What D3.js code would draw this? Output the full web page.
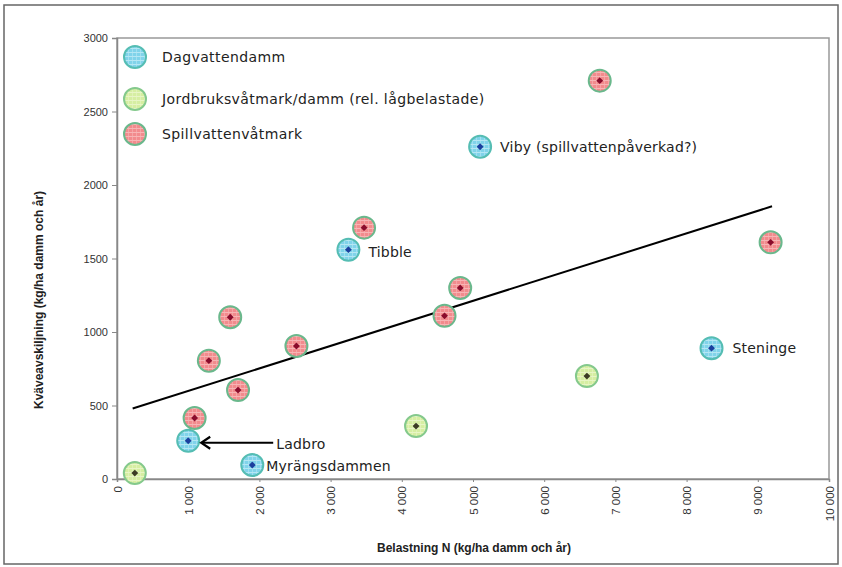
<!DOCTYPE html>
<html><head><meta charset="utf-8">
<script src="https://cdn.jsdelivr.net/npm/d3@7"></script>
<style>
body{margin:0;background:#fff;}
svg{display:block;}
</style></head>
<body><div id="chart"></div>
<script>
// ---- data ----
const seriesNames = ["Dagvattendamm", "Jordbruksvåtmark/damm (rel. lågbelastade)", "Spillvattenvåtmark"];
const dagX = [5100, 3250, 8350, 1000, 1900];
const dagY = [2260, 1560, 890, 260, 95];
const dagLabels = ["Viby (spillvattenpåverkad?)", "Tibble", "Steninge", "Ladbro", "Myrängsdammen"];
const jordX = [250, 4200, 6600];
const jordY = [40, 360, 700];
const spillX = [6780, 3470, 9180, 4820, 4600, 1590, 2520, 1290, 1700, 1090];
const spillY = [2710, 1710, 1610, 1300, 1110, 1100, 905, 805, 605, 415];
const trendX = [220, 9200];
const trendY = [480, 1855];
const xTicks = [0, 1000, 2000, 3000, 4000, 5000, 6000, 7000, 8000, 9000, 10000];
const yTicks = [0, 500, 1000, 1500, 2000, 2500, 3000];
const xTitle = "Belastning N (kg/ha damm och år)";
const yTitle = "Kväveavskiljning (kg/ha damm och år)";

const W = 842, H = 567;
const L = 117, R = 829, T = 38, B = 479;

const svg = d3.select("#chart").append("svg").attr("width", W).attr("height", H);

// patterns
const styles = [
  {fill:"#80d3ea", line:"#b5e7f4", stroke:"#55bdb3", dot:"#1b3f9e"},
  {fill:"#d6eea2", line:"#e8f5c6", stroke:"#84c98c", dot:"#3c3c24"},
  {fill:"#f28b8d", line:"#f7b5b5", stroke:"#6ab88c", dot:"#8a0c2c"}
];
const defs = svg.append("defs");
styles.forEach((s,i)=>{
  const p = defs.append("pattern").attr("id","pat"+i).attr("patternUnits","userSpaceOnUse")
    .attr("width",4).attr("height",4);
  p.append("rect").attr("width",4).attr("height",4).attr("fill",s.fill);
  p.append("line").attr("x1",0).attr("x2",4).attr("y1",0.5).attr("y2",0.5).attr("stroke",s.line).attr("stroke-width",1);
  p.append("line").attr("y1",0).attr("y2",4).attr("x1",0.5).attr("x2",0.5).attr("stroke",s.line).attr("stroke-width",0.6);
});

// outer frame
svg.append("rect").attr("x",4).attr("y",5).attr("width",834).attr("height",559)
  .attr("fill","none").attr("stroke","#666").attr("stroke-width",1.5);

const x = d3.scaleLinear().domain([0,10000]).range([L,R]);
const y = d3.scaleLinear().domain([0,3000]).range([B,T]);

// plot frame
svg.append("rect").attr("x",L).attr("y",T).attr("width",R-L).attr("height",B-T)
  .attr("fill","none").attr("stroke","#999").attr("stroke-width",1.5);

// axes
const fmt = d => d3.format(",")(d).replace(/,/g," ");
const yAx = svg.append("g").attr("transform",`translate(${L},0)`)
  .call(d3.axisLeft(y).tickValues(yTicks).tickSize(5).tickPadding(4).tickFormat(d3.format("d")));
yAx.select(".domain").attr("stroke","#888").attr("stroke-width",1.5);
yAx.selectAll(".tick line").attr("stroke","#888");
yAx.selectAll("text").attr("font-family","Liberation Sans, Arial, sans-serif").attr("font-size",11).attr("fill","#333");

const xAx = svg.append("g").attr("transform",`translate(0,${B})`)
  .call(d3.axisBottom(x).tickValues(xTicks).tickSize(3).tickFormat(fmt));
xAx.select(".domain").attr("stroke","#888").attr("stroke-width",1.5);
xAx.selectAll(".tick line").attr("stroke","#888");
xAx.selectAll("text").attr("font-family","Liberation Sans, Arial, sans-serif").attr("font-size",11.5).attr("fill","#333")
  .attr("transform","rotate(-90)").attr("text-anchor","end").attr("x",-7).attr("y",0).attr("dy","0.35em");

// titles
svg.append("text").attr("x",(L+R)/2+1).attr("y",552).attr("text-anchor","middle")
  .attr("font-family","Liberation Sans Narrow, Arial Narrow, Liberation Sans, Arial, sans-serif").attr("font-weight","bold")
  .attr("font-size",12).attr("fill","#222").text(xTitle);
svg.append("text").attr("transform",`translate(43,300) rotate(-90)`).attr("text-anchor","middle")
  .attr("font-family","Liberation Sans Narrow, Arial Narrow, Liberation Sans, Arial, sans-serif").attr("font-weight","bold")
  .attr("font-size",12).attr("fill","#222").text(yTitle);

// trend line
svg.append("line").attr("x1",x(trendX[0])).attr("y1",y(trendY[0])).attr("x2",x(trendX[1])).attr("y2",y(trendY[1]))
  .attr("stroke","#000").attr("stroke-width",2);

// points
const groups = [
  {xs:dagX, ys:dagY, s:0},
  {xs:jordX, ys:jordY, s:1},
  {xs:spillX, ys:spillY, s:2}
];
const rad = 11;
groups.forEach(g=>{
  const data = g.xs.map((v,i)=>({x:v,y:g.ys[i]}));
  const st = styles[g.s];
  const gg = svg.append("g");
  gg.selectAll("circle").data(data).join("circle")
    .attr("cx",d=>x(d.x)).attr("cy",d=>y(d.y)).attr("r",rad)
    .attr("fill",`url(#pat${g.s})`).attr("stroke",st.stroke).attr("stroke-width",2);
  gg.selectAll("path").data(data).join("path")
    .attr("d",d3.symbol(d3.symbolDiamond2,30))
    .attr("transform",d=>`translate(${x(d.x)},${y(d.y)})`).attr("fill",st.dot);
});

// labels for dagvattendamm
const labelFont = "DejaVu Sans, Verdana, sans-serif";
const labOff = [[20,5],[20,7],[21,5],[88,8],[14,6]];
dagLabels.forEach((t,i)=>{
  svg.append("text").attr("x",x(dagX[i])+labOff[i][0]).attr("y",y(dagY[i])+labOff[i][1])
    .attr("font-family",labelFont).attr("font-size",14).attr("letter-spacing",0.2).attr("fill","#222").text(t);
});
// Ladbro arrow
const ax0 = x(dagX[3])+13, ay = y(dagY[3])+2, ax1 = x(dagX[3])+85;
svg.append("line").attr("x1",ax1).attr("y1",ay).attr("x2",ax0+1).attr("y2",ay)
  .attr("stroke","#000").attr("stroke-width",2);
svg.append("path").attr("d",`M${ax0+9},${ay-6} L${ax0},${ay} L${ax0+9},${ay+6}`)
  .attr("fill","none").attr("stroke","#000").attr("stroke-width",2.2);

// legend
const lg = svg.append("g");
const legY = [57, 99, 134];
seriesNames.forEach((n,i)=>{
  lg.append("circle").attr("cx",135).attr("cy",legY[i]).attr("r",rad)
    .attr("fill",`url(#pat${i})`).attr("stroke",styles[i].stroke).attr("stroke-width",2);
  lg.append("text").attr("x",162).attr("y",legY[i]+5).attr("font-family",labelFont).attr("font-size",14)
    .attr("letter-spacing",0.4).attr("fill","#222").text(n);
});
</script></body></html>
